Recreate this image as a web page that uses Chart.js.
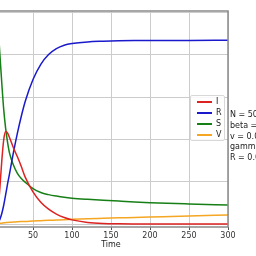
<!DOCTYPE html>
<html><head><meta charset="utf-8">
<script src="https://cdn.jsdelivr.net/npm/chart.js@4.4.1/dist/chart.umd.min.js"></script>
<style>
html,body{margin:0;padding:0;background:#fff;overflow:hidden;width:256px;height:256px;}
#wrap{position:absolute;left:-40px;top:0;width:296px;height:256px;}
#legend{position:absolute;left:190px;top:95px;width:35px;height:46px;border:1px solid #d8d8d8;border-radius:2px;background:rgba(255,255,255,0.85);box-sizing:border-box;font:8px "DejaVu Sans";color:#222;}
.row{position:absolute;left:0;height:10px;}
.sw{position:absolute;left:6px;top:4px;width:15px;height:2px;}
.lb{position:absolute;left:25px;top:0;line-height:10px;}
#params{position:absolute;left:230px;top:110px;font:8px "DejaVu Sans";color:#222;line-height:10.8px;white-space:nowrap;}
</style></head>
<body>
<div id="wrap"><canvas id="c" width="296" height="256"></canvas></div>
<div id="legend"></div>
<div id="params"></div>
<script>
const times = [0, 2.5, 5, 7.5, 10, 12.5, 15, 17.5, 20, 25, 30, 35, 40, 50, 60, 70, 80, 90, 100, 120, 140, 160, 180, 200, 250, 300];
const seriesI = [10, 60, 300, 850, 1500, 2000, 2190, 2150, 2040, 1800, 1590, 1360, 1110, 760, 515, 350, 235, 155, 98, 38, 13, 5, 2, 1, 0, 0];
const seriesR = [0, 3, 20, 110, 250, 450, 700, 960, 1200, 1700, 2150, 2550, 2900, 3420, 3780, 4010, 4150, 4230, 4270, 4310, 4325, 4335, 4340, 4342, 4345, 4347];
const seriesS = [4990, 4930, 4680, 4020, 3330, 2700, 2250, 1920, 1670, 1390, 1200, 1075, 990, 835, 745, 695, 660, 632, 612, 585, 563, 542, 522, 505, 475, 450];
const seriesV = [0, 5, 10, 15, 20, 28, 33, 37, 40, 45, 52, 57, 60, 70, 78, 86, 93, 100, 110, 125, 135, 145, 155, 165, 190, 213];
const xTicks = [0, 50, 100, 150, 200, 250, 300];
const yTicks = [0, 1000, 2000, 3000, 4000, 5000];
const names = ['I', 'R', 'S', 'V'];
const colors = ['#dd2222', '#1a1acc', '#168016', '#f5a623'];
const paramText = ['N = 5000', 'beta = 0.5', 'v = 0.001', 'gamma = 0.1', 'R = 0.01'];

const all = [seriesI, seriesR, seriesS, seriesV];
const datasets = all.map((vals, k) => ({
  label: names[k],
  data: times.map((t, i) => ({x: t, y: vals[i]})),
  borderColor: colors[k],
  borderWidth: 1.5,
  pointRadius: 0,
  fill: false,
  cubicInterpolationMode: 'monotone'
}));

const frame = {
  id: 'frame',
  afterDraw(chart) {
    const a = chart.chartArea, ctx = chart.ctx;
    ctx.save();
    ctx.strokeStyle = '#8a8a8a';
    ctx.lineWidth = 1.5;
    ctx.strokeRect(a.left, a.top, a.right - a.left, a.bottom - a.top);
    ctx.restore();
  }
};

new Chart(document.getElementById('c'), {
  type: 'line',
  data: {datasets},
  options: {
    responsive: false,
    animation: false,
    layout: {padding: {top: 11, right: 28, left: 0, bottom: 6}},
    plugins: {legend: {display: false}, tooltip: {enabled: false}},
    scales: {
      x: {
        type: 'linear', min: 0, max: 300,
        afterBuildTicks: s => { s.ticks = xTicks.map(v => ({value: v})); },
        afterFit: s => { s.height = 23; },
        ticks: {font: {family: 'DejaVu Sans', size: 8}, color: '#333', padding: 1, maxRotation: 0},
        grid: {color: '#cccccc', lineWidth: 1, tickLength: 3, tickColor: '#555'},
        border: {display: false},
        title: {display: true, text: 'Time', font: {family: 'DejaVu Sans', size: 8}, color: '#222', padding: {top: 0, bottom: 0}}
      },
      y: {
        min: -71, max: 5041,
        afterBuildTicks: s => { s.ticks = yTicks.map(v => ({value: v})); },
        afterFit: s => { s.width = 34; },
        ticks: {display: false},
        grid: {color: '#cccccc', lineWidth: 1, drawTicks: false},
        border: {display: false}
      }
    }
  },
  plugins: [frame]
});

const lg = document.getElementById('legend');
names.forEach((n, k) => {
  const r = document.createElement('div');
  r.className = 'row';
  r.style.top = (1 + k * 11) + 'px';
  r.innerHTML = '<div class="sw" style="background:' + colors[k] + '"></div><div class="lb">' + n + '</div>';
  lg.appendChild(r);
});
document.getElementById('params').innerHTML = paramText.join('<br>');
</script>
</body></html>
